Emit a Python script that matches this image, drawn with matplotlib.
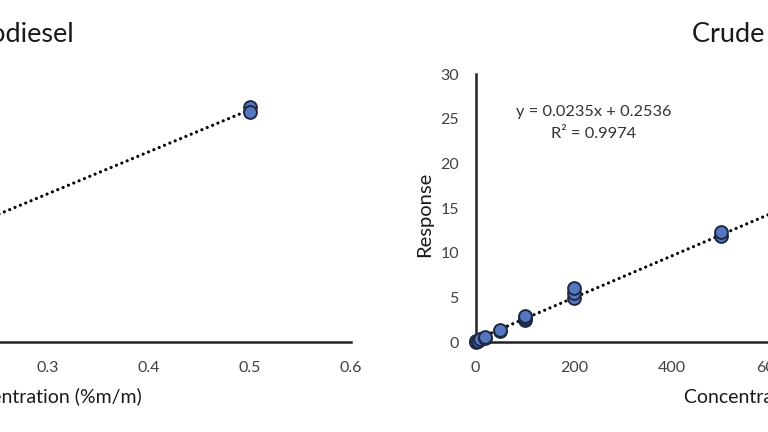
import matplotlib
matplotlib.use("Agg")
import matplotlib.pyplot as plt
import numpy as np

plt.rcParams['font.family'] = ['Lato', 'DejaVu Sans']

# ---- data ----
bio_title = "Biodiesel"
bio_xlabel = "Concentration (%m/m)"
bio_x = [0.5, 0.5]
bio_y = [26.3, 25.8]
bio_slope = 47.0
bio_intercept = 2.5
bio_xticks = [0, 0.1, 0.2, 0.3, 0.4, 0.5, 0.6]

crude_title = "Crude Oil"
crude_xlabel = "Concentration (mg/kg)"
crude_ylabel = "Response"
crude_x = [0, 2, 5, 10, 20, 20, 50, 50, 100, 100, 100, 200, 200, 200, 500, 500]
crude_y = [0.05, 0.1, 0.1, 0.3, 0.5, 0.6, 1.2, 1.3, 2.5, 2.7, 2.9, 4.9, 5.5, 6.0, 11.9, 12.3]
crude_slope = 0.0235
crude_intercept = 0.2536
crude_r2 = 0.9974
crude_xticks = [0, 200, 400, 600, 800, 1000]
yticks = [0, 5, 10, 15, 20, 25, 30]

W, H = 768, 432
fig = plt.figure(figsize=(W / 100, H / 100), dpi=100)
fig.patch.set_facecolor('white')

def fx(px):
    return px / W

def fy(py):
    return 1 - py / H

def px_rect(x0, x1, ytop, ybot):
    return [x0 / W, (H - ybot) / H, (x1 - x0) / W, (ybot - ytop) / H]

ax1 = fig.add_axes(px_rect(-255, 351, 74, 342))
ax2 = fig.add_axes(px_rect(475.5, 967, 74, 342))

marker_kw = dict(s=85, facecolor='#5577C2', edgecolor='#1E2840', linewidths=1.4,
                 zorder=3, clip_on=False)
tcol = '#404040'
dark = '#1a1a1a'
dot_style = dict(linestyle=(0, (0.01, 1.8)), color='black', linewidth=2.3,
                 dash_capstyle='round', zorder=2)

def style(ax):
    for s in ['top', 'right']:
        ax.spines[s].set_visible(False)
    for s in ['left', 'bottom']:
        ax.spines[s].set_linewidth(1.8)
        ax.spines[s].set_color('#222222')
    ax.tick_params(axis='both', length=0, labelsize=11.5, labelcolor=tcol)
    ax.tick_params(axis='x', pad=14)
    ax.tick_params(axis='y', pad=12)
    ax.set_ylim(0, 30)
    ax.set_yticks(yticks)

# left panel
style(ax1)
ax1.set_xlim(0, 0.6)
ax1.set_xticks(bio_xticks)
ax1.set_xticklabels([f"{t:g}" for t in bio_xticks])
xl = np.array([0, 0.5])
ax1.plot(xl, bio_slope * xl + bio_intercept, **dot_style)
ax1.scatter(bio_x, bio_y, **marker_kw)
fig.text(fx(74), fy(34), bio_title, ha='right', va='center', fontsize=19.5, color=dark)
fig.text(fx(142), fy(396), bio_xlabel, ha='right', va='center', fontsize=14, color=dark)

# right panel
style(ax2)
ax2.set_xlim(0, 1000)
ax2.set_xticks(crude_xticks)
xr = np.array([0, 1000])
ax2.plot(xr, crude_slope * xr + crude_intercept, **dot_style)
ax2.scatter(crude_x, crude_y, **marker_kw)
fig.text(fx(692), fy(34), crude_title, ha='left', va='center', fontsize=19.5, color=dark)
fig.text(fx(684), fy(397), crude_xlabel, ha='left', va='center', fontsize=14, color=dark)
fig.text(fx(425), fy(214), crude_ylabel, ha='center', va='center', rotation=90,
         fontsize=14.5, color=dark)
fig.text(fx(594), fy(123), f"y = {crude_slope}x + {crude_intercept}\nR² = {crude_r2}",
         ha='center', va='center', fontsize=11.8, color='#333333', linespacing=1.75,
         multialignment='center')

fig.savefig("out.png", dpi=100, facecolor='white')
